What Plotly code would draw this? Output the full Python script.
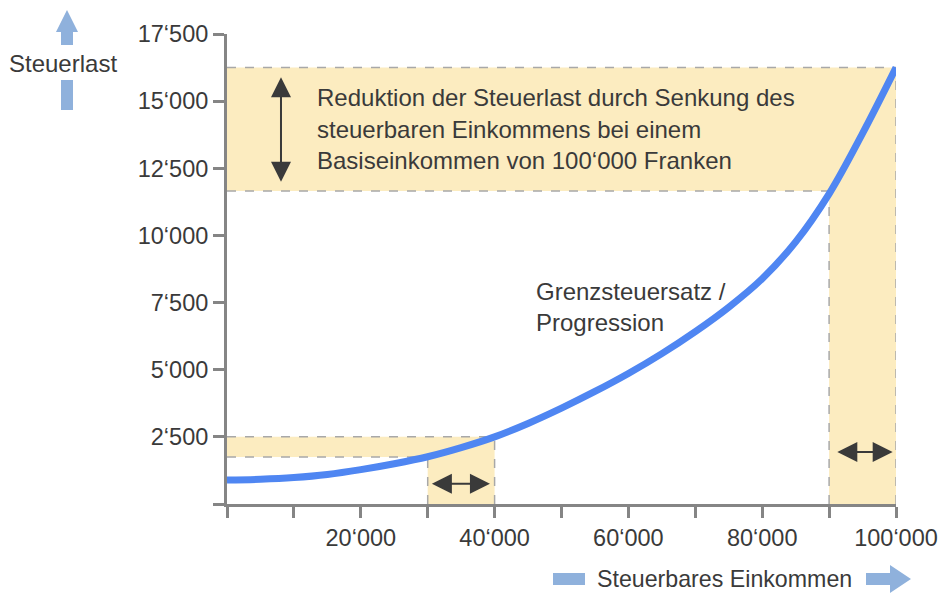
import plotly.graph_objects as go

# Tax burden curve (Steuerlast) over taxable income
income = [0, 5000, 10000, 15000, 20000, 25000, 30000, 35000, 40000, 45000, 50000,
          55000, 60000, 65000, 70000, 75000, 80000, 85000, 90000, 95000, 100000]
tax = [890, 920, 985, 1100, 1280, 1500, 1760, 2100, 2500, 3000, 3570,
       4190, 4860, 5600, 6420, 7330, 8390, 9760, 11550, 13800, 16250]

x_tick_values = list(range(0, 100001, 10000))
x_tick_labels = ["", "", "20‘000", "", "40‘000", "", "60‘000", "", "80‘000", "", "100‘000"]
y_tick_values = list(range(0, 17501, 2500))
y_tick_labels = ["", "2‘500", "5‘000", "7‘500", "10‘000", "12‘500", "15‘000", "17‘500"]

# Income reduction bands: 40'000 -> 30'000 and 100'000 -> 90'000
band_income_from = [30000, 90000]
band_income_to = [40000, 100000]
band_tax_from = [1750, 11650]
band_tax_to = [2500, 16250]

TEXT = "#3a3a3a"
FONT = "Liberation Sans, Arial, Helvetica, sans-serif"
FILL = "#fcecc0"
DASH = "#a8a8a8"
AXIS = "#858585"
CURVE = "#4f86f2"
DECO = "#8fb1dc"
ARROW = "#3a3a3a"

W, H = 940, 593
ML, MR, MT, MB = 227, 44, 34, 89
PW, PH = W - ML - MR, H - MT - MB


def px(x):
    return (x - ML) / PW


def py(y):
    return (H - MB - y) / PH


fig = go.Figure()
fig.add_trace(go.Scatter(
    x=income, y=tax, mode="lines",
    line=dict(color=CURVE, width=7, shape="spline", smoothing=1.0),
    hoverinfo="skip", showlegend=False,
))

shapes = []
for lo, hi, t_lo, t_hi in zip(band_income_from, band_income_to, band_tax_from, band_tax_to):
    # shaded horizontal band (tax difference) and vertical band (income difference)
    shapes.append(dict(type="rect", xref="x", yref="y", x0=0, x1=hi, y0=t_lo, y1=t_hi,
                       fillcolor=FILL, line=dict(width=0), layer="below"))
    shapes.append(dict(type="rect", xref="x", yref="y", x0=lo, x1=hi, y0=0, y1=t_lo,
                       fillcolor=FILL, line=dict(width=0), layer="below"))
    dash = dict(color=DASH, width=1.5, dash="dash")
    for x0, y0, x1, y1 in [(0, t_hi, hi, t_hi), (0, t_lo, lo, t_lo),
                           (lo, 0, lo, t_lo), (hi, 0, hi, t_hi)]:
        shapes.append(dict(type="line", xref="x", yref="y", x0=x0, y0=y0, x1=x1, y1=y1,
                           line=dash, layer="below"))

# axis direction markers (light blue arrows)
def path(points):
    return "M" + " L".join(f"{px(a):.5f},{py(b):.5f}" for a, b in points) + " Z"

deco = [
    [(56, 32), (67, 10), (78, 32), (73, 32), (73, 45), (61, 45), (61, 32)],
    [(61, 80), (73, 80), (73, 110), (61, 110)],
    [(553, 573), (585, 573), (585, 585), (553, 585)],
    [(866, 573), (890, 573), (890, 565), (911, 579), (890, 593), (890, 585), (866, 585)],
]
for pts in deco:
    shapes.append(dict(type="path", xref="paper", yref="paper", path=path(pts),
                       fillcolor=DECO, line=dict(width=0)))

annotations = []
for ax_, ay_, x_, y_ in [(8070, 15950, 8070, 12000),
                         (30400, 750, 39300, 750),
                         (91000, 1940, 99500, 1940)]:
    annotations.append(dict(x=x_, y=y_, ax=ax_, ay=ay_, xref="x", yref="y", axref="x", ayref="y",
                            text="", showarrow=True, arrowhead=2, startarrowhead=2,
                            arrowside="end+start", arrowsize=2, startarrowsize=2,
                            arrowwidth=2, arrowcolor=ARROW, standoff=0, startstandoff=0))

texts = [
    ("Reduktion der Steuerlast durch Senkung des", 315, 98, 24),
    ("steuerbaren Einkommens bei einem", 315, 129, 24),
    ("Basiseinkommen von 100‘000 Franken", 315, 160, 24),
    ("Grenzsteuersatz /", 534, 291, 24),
    ("Progression", 534, 322, 24),
    ("Steuerlast", 7, 63, 24),
    ("Steuerbares Einkommen", 595, 579, 23.2),
]
for txt, x, y, size in texts:
    annotations.append(dict(text=txt, x=px(x), y=py(y), xref="paper", yref="paper",
                            xanchor="left", yanchor="middle", showarrow=False,
                            font=dict(family=FONT, size=size, color=TEXT)))

fig.update_layout(
    width=W, height=H,
    margin=dict(l=ML, r=MR, t=MT, b=MB, pad=0, autoexpand=False),
    paper_bgcolor="white", plot_bgcolor="white",
    showlegend=False,
    shapes=shapes, annotations=annotations,
    font=dict(family=FONT, size=23.5, color=TEXT),
    xaxis=dict(range=[0, 100000], tickvals=x_tick_values, ticktext=x_tick_labels,
               ticks="outside", ticklen=11, tickwidth=2.5, tickcolor=AXIS,
               showline=True, linewidth=3, linecolor=AXIS, showgrid=False, zeroline=False,
               tickfont=dict(family=FONT, size=23.5, color=TEXT), fixedrange=True,
               automargin=False),
    yaxis=dict(range=[0, 17500], tickvals=y_tick_values, ticktext=y_tick_labels,
               ticks="outside", ticklen=11, tickwidth=2.5, tickcolor=AXIS,
               showline=True, linewidth=3, linecolor=AXIS, showgrid=False, zeroline=False,
               tickfont=dict(family=FONT, size=23.5, color=TEXT), fixedrange=True,
               automargin=False),
)

fig.write_html("out.html")
